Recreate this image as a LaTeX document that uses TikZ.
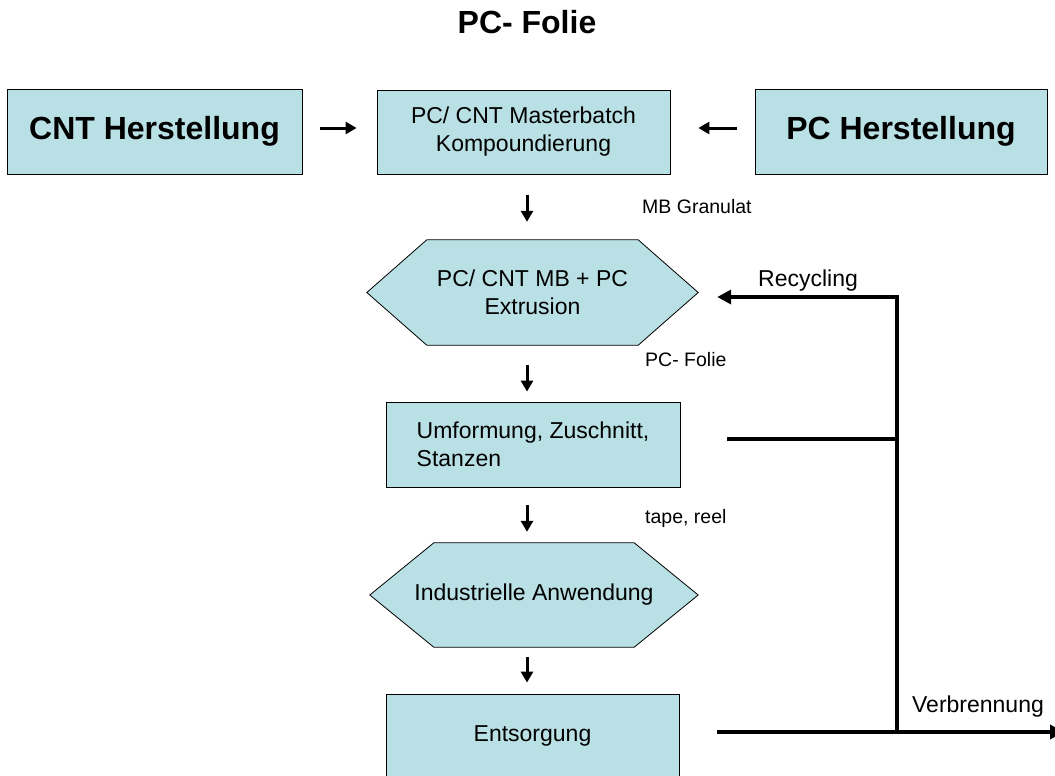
\documentclass[tikz,border=0pt]{standalone}
\usepackage{fontspec}
\setmainfont{Liberation Sans}
\usetikzlibrary{arrows.meta,backgrounds}
\definecolor{boxfill}{RGB}{185,224,228}
\begin{document}
\begin{tikzpicture}[x=1pt,y=-1pt,
  box/.style={draw=black,line width=0.8pt,fill=boxfill,inner sep=0pt,align=center},
  hexnode/.style={inner sep=0pt,align=center},
  hexshape/.style={draw=black,line width=0.8pt,fill=boxfill,line join=miter},
  big/.style={font=\fontsize{32}{36}\selectfont\bfseries},
  txt/.style={font=\fontsize{23}{28}\selectfont},
  small/.style={font=\fontsize{19.5}{23}\selectfont},
  lbl/.style={inner sep=0pt},
  arr/.style={line width=3pt,-{Triangle[length=11pt,width=12pt]}},
  flow/.style={line width=4pt},
  flowarr/.style={line width=4pt,-{Triangle[length=14pt,width=14pt]}}]
\clip (0,0) rectangle (1055,776);

% title
\node[big,lbl] (title) at (527,22) {PC- Folie};

% top row
\node[box,big,minimum width=295pt,minimum height=85pt] (cnt) at (154.5,131.5) {CNT Herstellung};
\node[box,txt,minimum width=293pt,minimum height=84pt] (mb) at (523.5,132) {PC/ CNT Masterbatch\\Kompoundierung};
\node[box,big,minimum width=292pt,minimum height=85pt] (pc) at (901,131.5) {PC Herstellung};

% flow
\node[hexnode,txt,minimum width=331pt,minimum height=105pt] (ext) at (532.5,292.5) {PC/ CNT MB + PC\\Extrusion};
\node[box,txt,align=left,minimum width=294pt,minimum height=85pt] (umf) at (533,444.5) {Umformung, Zuschnitt,\\Stanzen};
\node[hexnode,txt,minimum width=328pt,minimum height=104pt] (ind) at (534,595) {Industrielle Anwendung};
\node[box,txt,minimum width=293pt,minimum height=84pt] (ent) at (532.5,736) {Entsorgung};

\begin{scope}[on background layer]
\path[hexshape] (ext.west) -- ([xshift=60pt]ext.north west) -- ([xshift=-60pt]ext.north east) -- (ext.east) -- ([xshift=-60pt]ext.south east) -- ([xshift=60pt]ext.south west) -- cycle;
\path[hexshape] (ind.west) -- ([xshift=64pt]ind.north west) -- ([xshift=-64pt]ind.north east) -- (ind.east) -- ([xshift=-64pt]ind.south east) -- ([xshift=64pt]ind.south west) -- cycle;
\end{scope}

% labels
\node[small,lbl,anchor=west] (lmb) at (642,207) {MB Granulat};
\node[small,lbl,anchor=west] (lfolie) at (645,360) {PC- Folie};
\node[small,lbl,anchor=west] (ltape) at (645,518) {tape, reel};
\node[txt,lbl] (lrec) at (808,281) {Recycling};
\node[txt,lbl] (lverb) at (978,707) {Verbrennung};

% arrows
\coordinate (colx) at (527,0);
\coordinate (rowy) at (0,128);
\draw[arr,shorten <=18pt,shorten >=20pt] (cnt.east |- rowy) -- (mb.west |- rowy);
\draw[arr,shorten <=18pt,shorten >=28pt] (pc.west |- rowy) -- (mb.east |- rowy);
\draw[arr,shorten <=21pt,shorten >=18pt] (mb.south -| colx) -- (ext.north -| colx);
\draw[arr,shorten <=20pt,shorten >=10pt] (ext.south -| colx) -- (umf.north -| colx);
\draw[arr,shorten <=18pt,shorten >=11pt] (umf.south -| colx) -- (ind.north -| colx);
\draw[arr,shorten <=10pt,shorten >=11pt] (ind.south -| colx) -- (ent.north -| colx);

% recycling / incineration lines
\coordinate (j1) at (897,297);
\coordinate (j2) at (897,439);
\coordinate (j3) at (897,732);
\coordinate (vend) at (1064,732);
\draw[flow] (j3) -- ([yshift=2pt]j1);
\draw[flowarr,shorten >=19pt] ([xshift=2pt]j1) -- (ext.east |- j1);
\draw[flow,shorten <=47pt] (umf.east |- j2) -- (j2);
\draw[flowarr,shorten <=38pt] (ent.east |- j3) -- (vend);
\end{tikzpicture}
\end{document}
